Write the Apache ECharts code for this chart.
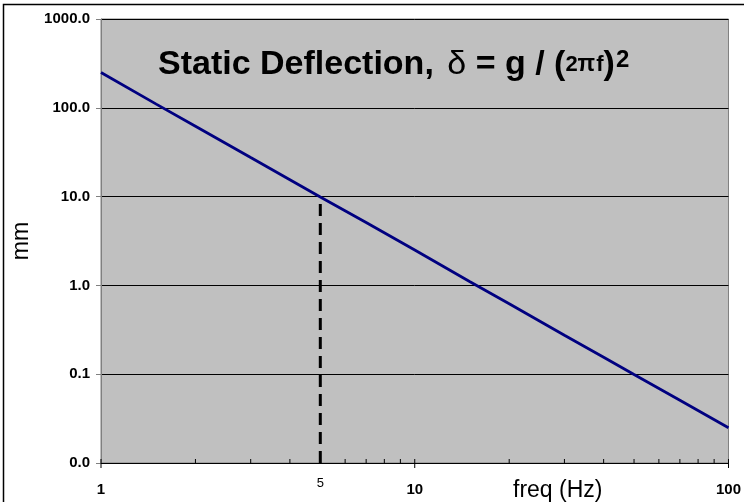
<!DOCTYPE html>
<html>
<head>
<meta charset="utf-8">
<script src="https://cdn.jsdelivr.net/npm/echarts@6/dist/echarts.min.js"></script>
<style>
  html, body { margin: 0; padding: 0; background: #ffffff; }
  #chart { width: 744px; height: 502px; }
</style>
</head>
<body>
<div id="chart"></div>
<script>
// Static deflection of a spring mount versus natural frequency (log-log)
const freqHz = [1, 1.5, 2, 3, 4, 5, 7, 10, 15, 20, 30, 40, 50, 70, 100];
const deflectionMm = [250, 110, 62, 27.5, 15.5, 9.9, 5.1, 2.5, 1.1, 0.62, 0.275, 0.155, 0.099, 0.051, 0.025];

// Marker at 5 Hz dropped from the curve to the bottom of the axis
const markerFreq = 5;
const markerTop = 9.9;
const markerLabel = '5';

// Axis ranges and tick positions
const yMin = 0.01, yMax = 1000;
const xMin = 1, xMax = 100;
const xMajorTicks = [1, 10, 100];
const xMinorTicks = [2, 3, 4, 5, 6, 7, 8, 9, 20, 30, 40, 50, 60, 70, 80, 90];

const chart = echarts.init(document.getElementById('chart'), null, { renderer: 'canvas' });

const FONT = 'Liberation Sans, Arial, sans-serif';

const option = {
  animation: false,
  backgroundColor: '#ffffff',
  title: [
    {
      left: 153,
      top: 43,
      text: '{b|Static Deflection, }{s|δ}{b| = g / (}{m|2}{pi|π}{m|f}{b|)}{sup|2}',
      textStyle: {
        rich: {
          b: { fontFamily: FONT, fontWeight: 'bold', fontSize: 34, color: '#000' },
          s: { fontFamily: FONT, fontWeight: 'normal', fontSize: 34, color: '#000', padding: [0, 0, 0, 4] },
          m: { fontFamily: FONT, fontWeight: 'bold', fontSize: 22, color: '#000' },
          pi: { fontFamily: FONT, fontWeight: 'bold', fontSize: 23, color: '#000', padding: [0, 1, 0, 0] },
          sup: { fontFamily: FONT, fontWeight: 'bold', fontSize: 24, color: '#000', verticalAlign: 'top', padding: [0, 0, 0, 1] }
        }
      }
    },
    {
      left: 508,
      top: 474,
      text: 'freq (Hz)',
      textStyle: { fontFamily: FONT, fontWeight: 'normal', fontSize: 23, color: '#000' }
    }
  ],
  graphic: [
    {
      type: 'rect',
      silent: true,
      shape: { x: 3.5, y: 4.5, width: 800, height: 600 },
      style: { fill: 'none', stroke: '#000', lineWidth: 1.5 }
    }
  ],
  grid: {
    left: 101,
    right: 15,
    top: 19,
    bottom: 39,
    show: true,
    backgroundColor: '#C0C0C0',
    borderColor: '#808080',
    borderWidth: 1
  },
  xAxis: {
    type: 'log',
    logBase: 10,
    min: xMin,
    max: xMax,
    axisLine: { show: true, lineStyle: { color: '#000', width: 1 } },
    axisTick: { show: false },
    minorTick: { show: false },
    splitLine: { show: false },
    axisLabel: {
      margin: 19,
      fontFamily: FONT,
      fontWeight: 'bold',
      fontSize: 15,
      color: '#000',
      formatter: v => String(Math.round(v))
    }
  },
  yAxis: {
    type: 'log',
    logBase: 10,
    min: yMin,
    max: yMax,
    interval: 1,
    name: 'mm',
    nameLocation: 'middle',
    nameGap: 62,
    nameRotate: 90,
    nameTextStyle: { fontFamily: FONT, fontSize: 23, color: '#000' },
    axisLine: { show: true, lineStyle: { color: '#808080', width: 1 } },
    axisTick: { show: true, length: 5, lineStyle: { color: '#808080' } },
    splitLine: { show: true, lineStyle: { color: '#000', width: 1 } },
    axisLabel: {
      margin: 11,
      fontFamily: FONT,
      fontWeight: 'bold',
      fontSize: 15,
      color: '#000',
      formatter: v => Number(v).toFixed(1)
    }
  },
  series: [
    {
      name: 'deflection',
      type: 'line',
      data: freqHz.map((f, i) => [f, deflectionMm[i]]),
      showSymbol: false,
      symbol: 'none',
      smooth: false,
      lineStyle: { color: '#000080', width: 2.8 },
      z: 5
    },
    {
      name: 'marker',
      type: 'line',
      data: [[markerFreq, yMin], [markerFreq, markerTop]],
      showSymbol: false,
      symbol: 'none',
      lineStyle: { color: '#000', width: 3, type: [12, 7] },
      z: 4
    },
    {
      // x-axis tick marks: minor ticks inside, major ticks crossing the axis
      name: 'xticks',
      type: 'custom',
      clip: false,
      silent: true,
      data: xMajorTicks.map(v => [v, 1]).concat(xMinorTicks.map(v => [v, 0])),
      encode: { x: 0 },
      renderItem: (params, api) => {
        const p = api.coord([api.value(0), yMin]);
        const major = api.value(1) === 1;
        return {
          type: 'line',
          shape: { x1: p[0], y1: p[1] - 4, x2: p[0], y2: p[1] + (major ? 5 : 0) },
          style: { stroke: '#000', lineWidth: 1 }
        };
      },
      z: 6
    },
    {
      name: 'markerLabel',
      type: 'custom',
      clip: false,
      silent: true,
      data: [[markerFreq]],
      encode: { x: 0 },
      renderItem: (params, api) => {
        const p = api.coord([api.value(0), yMin]);
        return {
          type: 'text',
          x: p[0],
          y: p[1] + 20,
          style: {
            text: markerLabel,
            fontFamily: FONT,
            fontSize: 13,
            fill: '#000',
            align: 'center',
            verticalAlign: 'middle'
          }
        };
      }
    }
  ]
};

chart.setOption(option);
</script>
</body>
</html>
